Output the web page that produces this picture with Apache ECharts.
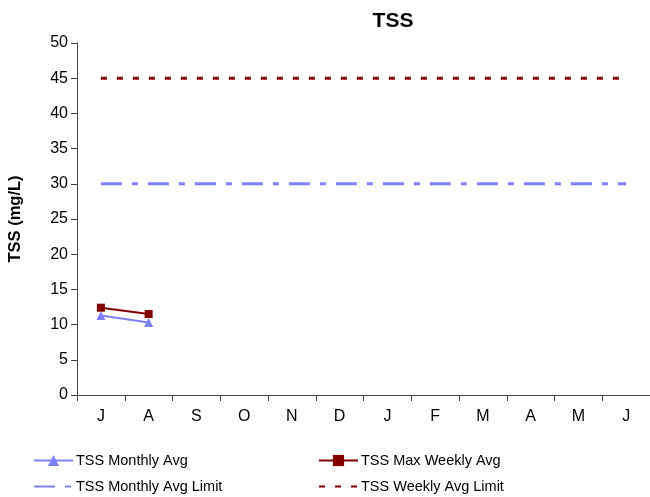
<!DOCTYPE html>
<html>
<head>
<meta charset="utf-8">
<script src="https://cdn.jsdelivr.net/npm/echarts@6/dist/echarts.min.js"></script>
<style>html,body{margin:0;padding:0;background:#fff}#c{width:650px;height:497px}</style>
</head>
<body>
<div id="c"></div>
<script>
var months = ['J','A','S','O','N','D','J','F','M','A','M','J'];
var yTicks = [0,5,10,15,20,25,30,35,40,45,50];
var monthlyAvg = [11.3, 10.3];
var maxWeeklyAvg = [12.4, 11.5];
var monthlyAvgLimit = [30,30,30,30,30,30,30,30,30,30,30,30];
var weeklyAvgLimit = [45,45,45,45,45,45,45,45,45,45,45,45];
var seriesNames = ['TSS Monthly Avg','TSS Max Weekly Avg','TSS Monthly Avg Limit','TSS Weekly Avg Limit'];

var blue = '#8080FF', red = '#800000';
var font = 'Liberation Sans, Arial, sans-serif';
var legendBase = {orient: 'vertical', top: 453, padding: 0,
  itemWidth: 39, itemHeight: 14, itemGap: 11,
  textStyle: {fontFamily: font, fontSize: 14.5, color: '#000', padding: [0,0,0,-2]}};
var chart = echarts.init(document.getElementById('c'), null, {renderer:'canvas'});
chart.setOption({
  animation: false,
  backgroundColor: '#fff',
  title: {text: 'TSS', left: 388, top: 6, textAlign: 'center',
    textStyle: {fontFamily: font, fontWeight: 'bold', fontSize: 21, color: '#000'}},
  grid: {left: 77, right: 0, top: 43, bottom: 102, containLabel: false, outerBoundsMode: 'none'},
  legend: [
    Object.assign({}, legendBase, {left: 33,
      data: [{name: seriesNames[0]}, {name: seriesNames[2], itemStyle: {opacity: 0}}]}),
    Object.assign({}, legendBase, {left: 318,
      data: [{name: seriesNames[1]}, {name: seriesNames[3], itemStyle: {opacity: 0}}]})
  ],
  xAxis: {type: 'category', data: months, boundaryGap: true,
    axisLine: {lineStyle: {color: '#444', width: 1}},
    axisTick: {show: true, inside: false, length: 6, lineStyle: {color: '#444'}},
    axisLabel: {fontFamily: font, fontSize: 16, color: '#000', margin: 14},
    splitLine: {show: false}},
  yAxis: {type: 'value', min: yTicks[0], max: yTicks[yTicks.length-1], interval: 5,
    name: 'TSS (mg/L)', nameLocation: 'middle', nameGap: 53, nameRotate: 90,
    nameTextStyle: {fontFamily: font, fontWeight: 'bold', fontSize: 16.5, color: '#000'},
    axisLine: {show: true, lineStyle: {color: '#444', width: 1}},
    axisTick: {show: true, length: 6, lineStyle: {color: '#444'}},
    axisLabel: {fontFamily: font, fontSize: 16, color: '#000', margin: 9},
    splitLine: {show: false}},
  series: [
    {name: seriesNames[0], type: 'line', data: monthlyAvg, color: blue,
     symbol: 'triangle', symbolSize: 9, lineStyle: {width: 2, color: blue}, itemStyle: {color: blue}},
    {name: seriesNames[1], type: 'line', data: maxWeeklyAvg, color: red,
     symbol: 'rect', symbolSize: 8, lineStyle: {width: 2, color: red}, itemStyle: {color: red}},
    {name: seriesNames[2], type: 'line', data: monthlyAvgLimit, color: blue,
     symbol: 'none', showSymbol: false, lineStyle: {width: 3, color: blue, type: [21,10,6,10]}},
    {name: seriesNames[3], type: 'line', data: weeklyAvgLimit, color: red,
     symbol: 'none', showSymbol: false, lineStyle: {width: 3, color: red, type: [6,10]}}
  ]
});
</script>
</body>
</html>
